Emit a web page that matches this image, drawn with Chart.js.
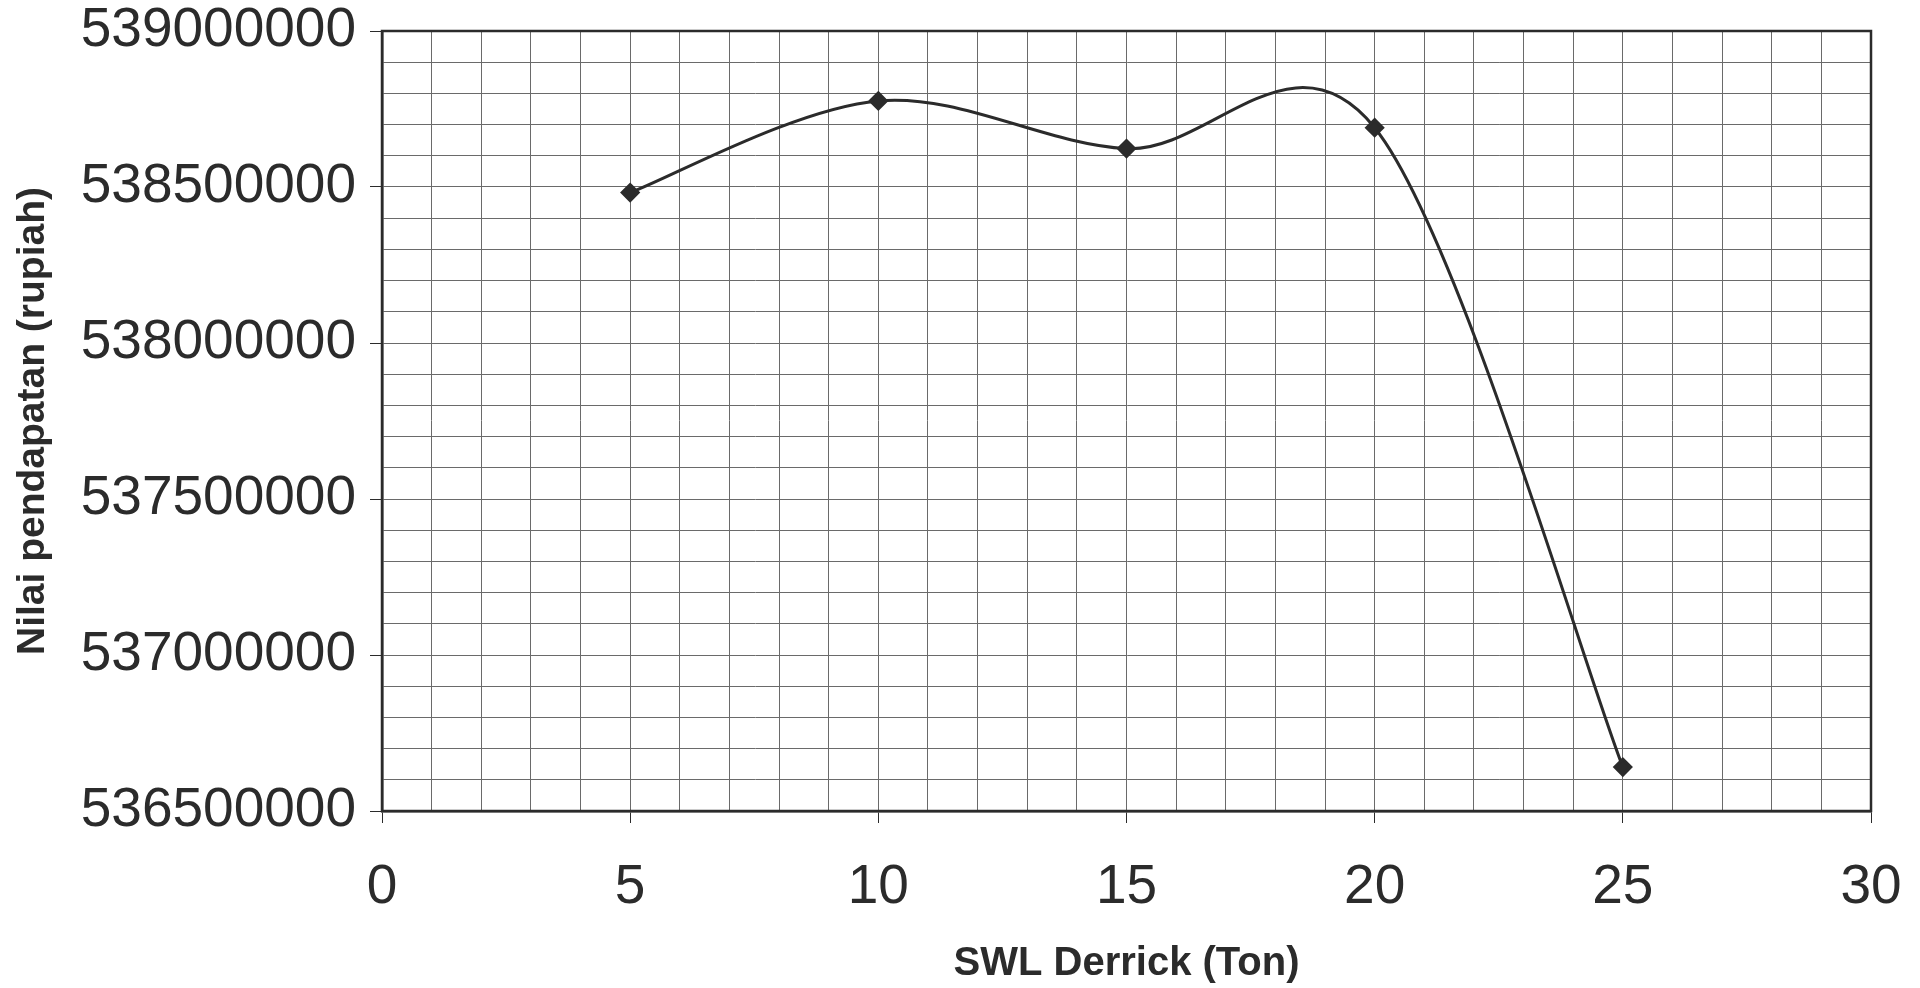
<!DOCTYPE html>
<html>
<head>
<meta charset="utf-8">
<script src="https://cdn.jsdelivr.net/npm/chart.js@4/dist/chart.umd.min.js"></script>
<style>
  html, body { margin: 0; padding: 0; background: #ffffff; }
  #wrap { width: 1920px; height: 988px; }
</style>
</head>
<body>
<div id="wrap"><canvas id="chart" width="1920" height="988"></canvas></div>
<script>
// data
const swl = [5, 10, 15, 20, 25];
const pendapatan = [538482000, 538776000, 538623000, 538690000, 536641000];

const xTitle = 'SWL Derrick (Ton)';
const yTitle = 'Nilai pendapatan (rupiah)';

const ink = '#2b2b2b';
const gridInk = '#6a6a6a';

// box around the plot area
const frame = {
    id: 'frame',
    afterDraw(chart) {
        const { ctx, chartArea: a } = chart;
        ctx.save();
        ctx.strokeStyle = ink;
        ctx.lineWidth = 2.5;
        ctx.strokeRect(a.left, a.top, a.right - a.left, a.bottom - a.top);
        ctx.restore();
    }
};

// spreadsheet-style smoothing: uniform catmull-rom control points (1/6)
const smoothLine = {
    id: 'smoothLine',
    beforeDatasetDraw(chart, args) {
        const meta = args.meta;
        const line = meta.dataset;
        line.updateControlPoints(chart.chartArea, 'x');
        const pts = meta.data;
        const n = pts.length;
        for (let i = 0; i < n; i++) {
            const p = pts[i];
            const prev = pts[Math.max(i - 1, 0)];
            const next = pts[Math.min(i + 1, n - 1)];
            const dx = (next.x - prev.x) / 6;
            const dy = (next.y - prev.y) / 6;
            p.cp1x = p.x - dx; p.cp1y = p.y - dy;
            p.cp2x = p.x + dx; p.cp2y = p.y + dy;
        }
        line._path = undefined;
    }
};

const ctx = document.getElementById('chart').getContext('2d');

new Chart(ctx, {
    type: 'line',
    data: {
        datasets: [{
            data: swl.map((x, i) => ({ x: x, y: pendapatan[i] })),
            borderColor: ink,
            borderWidth: 3,
            tension: 0.5,
            pointStyle: 'rectRot',
            pointRadius: 8,
            pointBackgroundColor: ink,
            pointBorderColor: ink,
            fill: false
        }]
    },
    options: {
        responsive: false,
        animation: false,
        layout: { padding: { top: 31, right: 49, left: 0, bottom: 0 } },
        plugins: {
            legend: { display: false },
            tooltip: { enabled: false }
        },
        scales: {
            x: {
                type: 'linear',
                min: 0,
                max: 30,
                afterFit: s => { s.height = 177; s.paddingLeft = 0; s.paddingRight = 0; },
                ticks: {
                    stepSize: 1,
                    autoSkip: false,
                    maxRotation: 0,
                    padding: 32,
                    color: ink,
                    font: { family: 'Liberation Sans', size: 55 },
                    callback: v => (v % 5 === 0 ? String(v) : '')
                },
                grid: {
                    color: gridInk,
                    lineWidth: 1,
                    tickLength: 12,
                    tickColor: c => (c.tick && c.tick.value % 5 === 0 ? ink : 'rgba(0,0,0,0)')
                },
                border: { color: ink, width: 2.5 },
                title: {
                    display: true,
                    text: xTitle,
                    color: ink,
                    font: { family: 'Liberation Sans', size: 40, weight: 'bold' },
                    padding: { top: 0, bottom: 0 }
                }
            },
            y: {
                min: 536500000,
                max: 539000000,
                afterFit: s => { s.width = 382; s.paddingTop = 0; s.paddingBottom = 0; },
                ticks: {
                    stepSize: 100000,
                    autoSkip: false,
                    padding: 14,
                    color: ink,
                    font: { family: 'Liberation Sans', size: 55 },
                    callback: v => (v % 500000 === 0 ? String(v) : '')
                },
                grid: {
                    color: gridInk,
                    lineWidth: 1,
                    tickLength: 12,
                    tickColor: c => (c.tick && c.tick.value % 500000 === 0 ? ink : 'rgba(0,0,0,0)')
                },
                border: { color: ink, width: 2.5 },
                title: {
                    display: true,
                    text: yTitle,
                    color: ink,
                    font: { family: 'Liberation Sans', size: 39, weight: 'bold' },
                    padding: { top: 10, bottom: 0 }
                }
            }
        }
    },
    plugins: [frame, smoothLine]
});
</script>
</body>
</html>
